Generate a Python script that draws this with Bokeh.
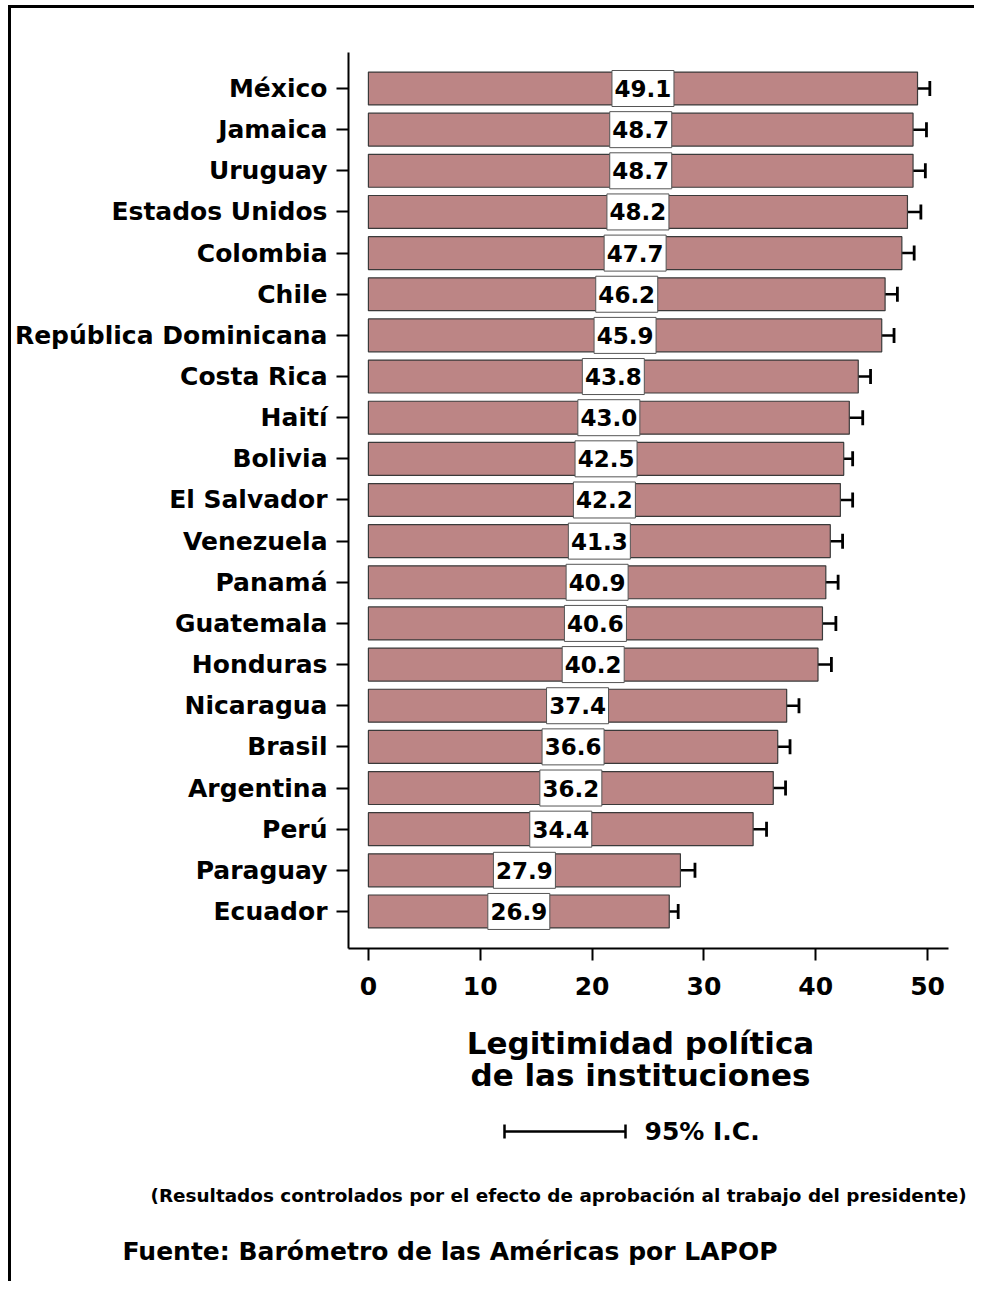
from bokeh.plotting import figure
from bokeh.models import ColumnDataSource, Range1d, FixedTicker, Whisker, TeeHead
from bokeh.layouts import column
from bokeh.core.properties import value
from bokeh.embed import file_html
from bokeh.resources import INLINE

countries = ["México", "Jamaica", "Uruguay", "Estados Unidos", "Colombia", "Chile",
             "República Dominicana", "Costa Rica", "Haití", "Bolivia", "El Salvador",
             "Venezuela", "Panamá", "Guatemala", "Honduras", "Nicaragua", "Brasil",
             "Argentina", "Perú", "Paraguay", "Ecuador"]
means = [49.1, 48.7, 48.7, 48.2, 47.7, 46.2, 45.9, 43.8, 43.0, 42.5, 42.2,
         41.3, 40.9, 40.6, 40.2, 37.4, 36.6, 36.2, 34.4, 27.9, 26.9]
ci_low = [48.0, 47.6, 47.6, 47.1, 46.6, 45.1, 44.8, 42.7, 41.9, 41.7, 41.2,
          40.2, 39.8, 39.4, 39.1, 36.3, 35.5, 35.0, 33.3, 26.6, 26.1]
ci_high = [50.2, 49.9, 49.8, 49.4, 48.8, 47.3, 47.0, 44.9, 44.2, 43.3, 43.3,
           42.4, 42.0, 41.8, 41.4, 38.5, 37.7, 37.3, 35.6, 29.2, 27.7]
x_ticks = [0, 10, 20, 30, 40, 50]
axis_title = ["Legitimidad política", "de las instituciones"]
ci_label = "95% I.C."
note = "(Resultados controlados por el efecto de aprobación al trabajo del presidente)"
source_txt = "Fuente: Barómetro de las Américas por LAPOP"

FONT = "DejaVu Sans"
idx = list(range(len(countries)))
src = ColumnDataSource(dict(
    y=idx, m=means, lo=ci_low, hi=ci_high,
    half=[v / 2 for v in means],
    lbl=[f"{v:.1f}" for v in means],
))

# layout geometry (page pixels)
OX, OY = 11, 8                       # where the chart canvas starts on the page
FL, FR, FT, FB = 346, 948, 52, 948   # frame edges on the page
W, H = 963, 1002
X0, X1 = -1.78, 51.87
Y0, Y1 = -0.875, 20.9

p = figure(width=W, height=H, output_backend="svg", toolbar_location=None,
           x_range=Range1d(X0, X1), y_range=Range1d(Y1, Y0),
           min_border_left=FL - OX, min_border_right=W - (FR - OX),
           min_border_top=FT - OY, min_border_bottom=H - (FB - OY))
p.outline_line_color = None
p.xgrid.visible = False
p.ygrid.visible = False

p.hbar(y="y", left=0, right="m", height=0.8, source=src,
       fill_color="#bc8585", line_color="#3a3a3a", line_width=1.2)

p.add_layout(Whisker(base="y", lower="lo", upper="hi", dimension="width", source=src,
                     line_color="black", line_width=2.5,
                     lower_head=TeeHead(size=15, line_width=2.8, line_color="black"),
                     upper_head=TeeHead(size=15, line_width=2.8, line_color="black")))

p.rect(x="half", y="y", width=62, height=36, width_units="screen", height_units="screen",
       source=src, fill_color="white", line_color="#555555", line_width=1)
p.text(x="half", y="y", text="lbl", source=src, text_align="center",
       text_baseline="middle", text_font=value(FONT), text_font_style="bold",
       text_font_size="23px", text_color="black")

p.yaxis.ticker = FixedTicker(ticks=idx)
p.yaxis.major_label_overrides = {i: c for i, c in zip(idx, countries)}
p.xaxis.ticker = FixedTicker(ticks=x_ticks)
for ax in (p.xaxis, p.yaxis):
    ax.major_label_text_font = FONT
    ax.major_label_text_font_style = "bold"
    ax.major_label_text_font_size = "25px"
    ax.major_label_text_color = "black"
    ax.minor_tick_line_color = None
    ax.major_tick_out = 12
    ax.major_tick_in = 0
    ax.major_tick_line_width = 2
    ax.axis_line_width = 2
p.yaxis.major_label_standoff = 9
p.xaxis.major_label_standoff = 16

# lower panel: axis title, CI legend, notes (coordinates = pixels in this panel)
QY = OY + H          # page y where the lower panel starts
H2 = 1281 - QY
q = figure(width=W, height=H2, output_backend="svg", toolbar_location=None,
           x_range=Range1d(0, W), y_range=Range1d(H2, 0),
           min_border=0, min_border_left=0, min_border_right=0,
           min_border_top=0, min_border_bottom=0)
q.axis.visible = False
q.grid.visible = False
q.outline_line_color = None

q.text(x=[640 - OX] * 2, y=[1042 - QY, 1074 - QY], text=axis_title,
       text_align="center", text_baseline="middle", text_font=value(FONT),
       text_font_style="bold", text_font_size="31px", text_color="black")

ly = 1131 - QY
q.segment(x0=[504 - OX], y0=[ly], x1=[625 - OX], y1=[ly], line_color="black", line_width=2.5)
q.segment(x0=[504 - OX, 625 - OX], y0=[ly - 7] * 2, x1=[504 - OX, 625 - OX], y1=[ly + 7] * 2,
          line_color="black", line_width=2.5)
q.text(x=[644 - OX], y=[ly], text=[ci_label], text_align="left", text_baseline="middle",
       text_font=value(FONT), text_font_style="bold", text_font_size="25px",
       text_color="black")

q.text(x=[150 - OX], y=[1195 - QY], text=[note], text_align="left", text_baseline="middle",
       text_font=value(FONT), text_font_style="bold", text_font_size="18.4px",
       text_color="black")
q.text(x=[122 - OX], y=[1251 - QY], text=[source_txt], text_align="left",
       text_baseline="middle", text_font=value(FONT), text_font_style="bold",
       text_font_size="25px", text_color="black")

top = column(p, styles={"margin-left": "8px", "margin-top": "5px",
                        "border-top": "3px solid black",
                        "border-left": "3px solid black"})
bottom = column(q, styles={"margin-left": "8px", "border-left": "3px solid black"})

open("out.html", "w").write(file_html([top, bottom], INLINE))
